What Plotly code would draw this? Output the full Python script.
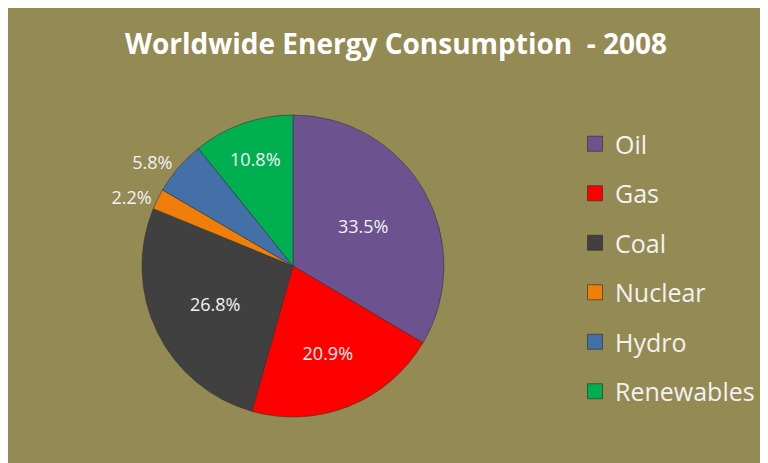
import plotly.graph_objects as go

W, H = 768, 463
categories = ["Oil", "Gas", "Coal", "Nuclear", "Hydro", "Renewables"]
values = [33.5, 20.9, 26.8, 2.2, 5.8, 10.8]
colors = ["#6C5390", "#FF0000", "#404040", "#F07F09", "#4470A8", "#00B050"]
text_pos = ["inside", "inside", "inside", "outside", "outside", "inside"]

BG = "#948A54"
FONT = "Open Sans"

# pie geometry in figure pixels
CX, CY, R = 285, 258, 151

fig = go.Figure()
fig.add_trace(go.Pie(
    labels=categories, values=values, sort=False, direction="clockwise",
    rotation=0,
    marker=dict(colors=colors, line=dict(color="rgba(50,50,50,0.55)", width=1)),
    texttemplate="%{value:.1f}%", textinfo="text",
    textposition=text_pos, insidetextorientation="horizontal",
    textfont=dict(family=FONT, size=18, color="#F2F2F2"),
    domain=dict(x=[(CX - R) / W, (CX + R) / W], y=[(H - CY - R) / H, (H - CY + R) / H]),
    showlegend=False, hoverinfo="label+percent",
))

for c, col in zip(categories, colors):
    fig.add_trace(go.Scatter(
        x=[None], y=[None], mode="markers", name=c, legendgroup=c,
        marker=dict(symbol="square", size=15, color=col, line=dict(color="rgba(40,40,40,0.6)", width=1)),
    ))

fig.update_layout(
    width=W, height=H,
    margin=dict(l=0, r=0, t=0, b=0),
    paper_bgcolor=BG, plot_bgcolor=BG,
    xaxis=dict(visible=False), yaxis=dict(visible=False),
    title=dict(text="<b>Worldwide Energy Consumption  - 2008</b>", x=388 / W, xanchor="center",
               y=1 - 36 / H, yanchor="middle",
               font=dict(family=FONT, size=28, color="white")),
    legend=dict(x=567 / W, xanchor="left", y=1 - 113 / H, yanchor="top",
                font=dict(family=FONT, size=25, color="#F2F2F2"),
                bgcolor="rgba(0,0,0,0)", tracegroupgap=14, itemclick=False),
)
fig.write_html("out.html")
